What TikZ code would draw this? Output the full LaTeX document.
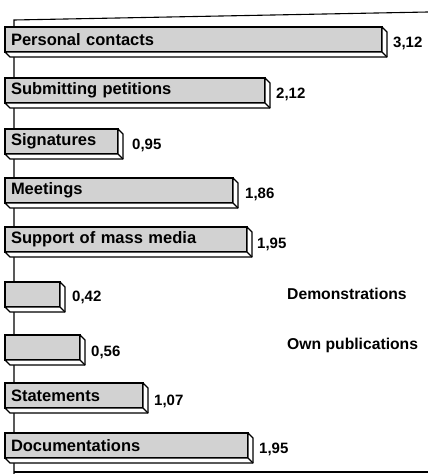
\documentclass[tikz,border=0pt]{standalone}
\usepackage{fontspec}
\setmainfont{Liberation Sans}
\usetikzlibrary{arrows}
\tikzset{
    barre/.style={
           rectangle,
           draw=black, line width=1.3pt,
           fill=gray!35,
           anchor=north west,
           outer sep=0pt,
           minimum height=25pt,
           inner xsep=6pt, inner ysep=0pt,
           align=left,
           font=\fontsize{16.5}{18}\selectfont\bfseries},
    relief/.style={
           draw=black, line width=1.3pt,
           fill=white, line join=round},
    valeur/.style={
           anchor=west, inner sep=0pt,
           font=\fontsize{15}{17}\selectfont\bfseries},
    legende/.style={
           anchor=west, inner sep=0pt,
           font=\fontsize{15.7}{18}\selectfont\bfseries}
    }
\begin{document}
\begin{tikzpicture}[x=1pt,y=-1pt]
      \useasboundingbox (0,0) rectangle (428,474);
      % axes
      \coordinate (o) at (14,20);
      \coordinate (hd) at (428,12);
      \coordinate (b) at (14,474);
      \coordinate (bg) at (14,472);
      \coordinate (bd) at (428,472);
      \draw[black,line width=1.1pt] (hd) -- (o) -- (b);
      \draw[black,line width=1.1pt] (bg) -- (bd);
      % barres
      \node[barre,text width=365pt] (contacts) at (5,27) {Personal contacts};
      \node[barre,text width=248pt] (petitions) at (5,78) {Submitting petitions};
      \node[barre,text width=101pt] (signatures) at (5,129) {Signatures};
      \node[barre,text width=216pt] (meetings) at (5,178) {Meetings};
      \node[barre,text width=230pt] (media) at (5,227) {Support of mass media};
      \node[barre,text width=43pt] (demo) at (5,282) {};
      \node[barre,text width=63pt] (publi) at (5,335) {};
      \node[barre,text width=126pt] (statements) at (5,383) {Statements};
      \node[barre,text width=231pt] (docs) at (5,433) {Documentations};
      \foreach \b in {contacts,petitions,signatures,meetings,media,demo,publi,statements,docs} {
        \draw[relief] (\b.north east) -- ++(5,5) -- ++(0,25) -- ([shift={(5,5)}]\b.south west) -- (\b.south west) -- (\b.south east) -- cycle;
        \draw[relief] (\b.south east) -- ++(5,5);
      }
      % valeurs
      \node[valeur] (v1) at (393,43) {3,12};
      \node[valeur] (v2) at (276,94) {2,12};
      \node[valeur] (v3) at (132,145) {0,95};
      \node[valeur] (v4) at (245,194) {1,86};
      \node[valeur] (v5) at (257,244) {1,95};
      \node[valeur] (v6) at (72,297) {0,42};
      \node[valeur] (v7) at (91,352) {0,56};
      \node[valeur] (v8) at (154,401) {1,07};
      \node[valeur] (v9) at (259,449) {1,95};
      \node[legende] (l6) at (287,294) {Demonstrations};
      \node[legende] (l7) at (287,345) {Own publications};
\end{tikzpicture}
\end{document}
